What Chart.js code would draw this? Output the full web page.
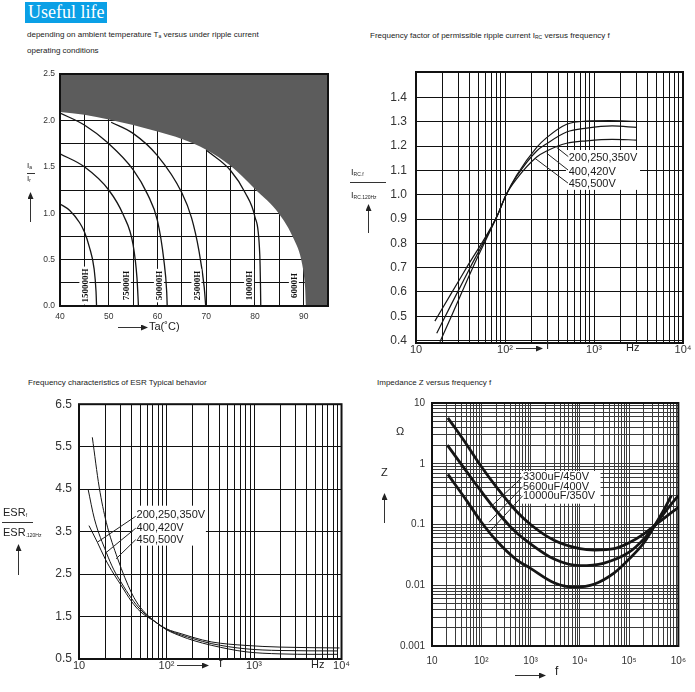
<!DOCTYPE html>
<html>
<head>
<meta charset="utf-8">
<script src="https://cdn.jsdelivr.net/npm/chart.js@4.4.1/dist/chart.umd.min.js"></script>
<style>
  body { margin:0; background:#fff; width:695px; height:692px; position:relative; overflow:hidden;
         font-family:"Liberation Sans", Arial, sans-serif; color:#222; }
  canvas { position:absolute; }
  .t { position:absolute; white-space:nowrap; line-height:1; }
  .s { font-size:8px; }
  .sub { font-size:5px; vertical-align:-1px; }
  #badge { position:absolute; left:25px; top:2px; width:82px; height:21px; background:#0aa0e6; color:#fff;
           font:18px "Liberation Serif", "DejaVu Serif", serif; line-height:21px; padding-left:3px; box-sizing:border-box; }
  svg { position:absolute; left:0; top:0; }
</style>
</head>
<body>
<div id="badge">Useful life</div>
<div class="t s" style="left:27px;top:31px">depending on ambient temperature T<span class="sub">a</span> versus under ripple current</div>
<div class="t s" style="left:27px;top:47px">operating conditions</div>
<div class="t s" style="left:370px;top:32px">Frequency factor of permissible ripple current I<span class="sub">RC</span> versus frequency f</div>
<div class="t s" style="left:28px;top:379px">Frequency characteristics of ESR Typical behavior</div>
<div class="t s" style="left:377px;top:379px">Impedance Z versus frequency f</div>

<canvas id="c1" width="340" height="285" style="left:0;top:60px"></canvas>
<canvas id="c2" width="355" height="305" style="left:340px;top:55px"></canvas>
<canvas id="c3" width="350" height="302" style="left:0;top:390px"></canvas>
<canvas id="c4" width="350" height="302" style="left:345px;top:390px"></canvas>

<!-- axis captions -->
<div class="t" style="left:27px;top:162px;font-size:8px">I<span class="sub">a</span></div>
<div class="t" style="left:27px;top:175px;font-size:8px">I<span class="sub">r</span></div>
<div class="t" style="left:149px;top:321px;font-size:11px">Ta(˚C)</div>

<div class="t" style="left:351px;top:168px;font-size:9px">I<span class="sub">RC.f</span></div>
<div class="t" style="left:351px;top:191px;font-size:9px">I<span class="sub">RC.120Hz</span></div>
<div class="t" style="left:546px;top:339px;font-size:12px">f</div>
<div class="t" style="left:626px;top:342px;font-size:11px">Hz</div>

<div class="t" style="left:3px;top:507px;font-size:11px">ESR<span class="sub">f</span></div>
<div class="t" style="left:3px;top:527px;font-size:11px">ESR<span class="sub">.120Hz</span></div>
<div class="t" style="left:219px;top:657px;font-size:12px">f</div>
<div class="t" style="left:311px;top:659px;font-size:11px">Hz</div>

<div class="t" style="left:396px;top:426px;font-size:11px">Ω</div>
<div class="t" style="left:381px;top:467px;font-size:11px">Z</div>
<div class="t" style="left:555px;top:665px;font-size:12px">f</div>

<svg width="695" height="692">
  <defs>
    <marker id="ah" markerWidth="7" markerHeight="6" refX="6" refY="3" orient="auto" markerUnits="userSpaceOnUse">
      <path d="M0,0 L7,3 L0,6 z" fill="#222"/>
    </marker>
  </defs>
  <g stroke="#333" stroke-width="1" fill="none">
    <line x1="27" y1="173.5" x2="35" y2="173.5"/>
    <line x1="350" y1="182.5" x2="386" y2="182.5"/>
    <line x1="2" y1="522.5" x2="33" y2="522.5"/>
  </g>
  <g stroke="#333" stroke-width="1" marker-end="url(#ah)">
    <line x1="118" y1="327.5" x2="147" y2="327.5"/>
    <line x1="30.5" y1="222" x2="30.5" y2="193"/>
    <line x1="516" y1="348.5" x2="542" y2="348.5"/>
    <line x1="368.5" y1="233" x2="368.5" y2="205"/>
    <line x1="177" y1="665.5" x2="208" y2="665.5"/>
    <line x1="18.5" y1="575" x2="18.5" y2="545"/>
    <line x1="515" y1="675.5" x2="545" y2="675.5"/>
    <line x1="384.5" y1="523" x2="384.5" y2="494"/>
  </g>
</svg>

<script>
// ---------- data ----------
// chart 1: useful life vs ambient temperature (x = Ta in C, y = Ia/Ir)
const tempTicks = [40, 45, 50, 55, 60, 65, 70, 75, 80, 85, 90, 95];
const ratioTicks = [0, 0.25, 0.5, 0.75, 1, 1.25, 1.5, 1.75, 2, 2.25, 2.5];
const limit6000 = [[40, 2.09], [45, 2.06], [50, 2.01], [55, 1.95], [60, 1.88], [65, 1.80], [70, 1.685],
                   [75, 1.51], [80, 1.26], [85, 0.99], [88, 0.72], [89.7, 0.45], [90.3, 0.2], [90.5, 0], [95, 0]];
const life150k = [[40, 1.10], [42, 1.03], [44, 0.90], [45, 0.80], [46, 0.64], [47, 0.40], [47.4, 0.15], [47.5, 0]];
const life75k = [[40, 1.64], [45, 1.50], [50, 1.25], [53, 0.98], [55, 0.66], [55.8, 0.3], [56.1, 0]];
const life50k = [[40, 2.08], [45, 1.95], [50, 1.75], [55, 1.47], [58, 1.20], [60, 0.92], [61.3, 0.5], [61.9, 0.15], [62, 0]];
const life25k = [[50.5, 1.98], [55, 1.86], [60, 1.62], [65, 1.22], [67, 0.95], [68.5, 0.6], [69.6, 0.2], [69.9, 0]];
const life10k = [[70, 1.68], [75, 1.46], [78, 1.22], [80, 0.96], [81, 0.55], [81.15, 0.2], [81.2, 0]];
const lifeTags = ['150000H', '75000H', '50000H', '25000H', '10000H', '6000H'];
const lifeTagX = [45, 53.5, 60.3, 68, 78.8, 88];

// chart 2: ripple current frequency factor (x = f in Hz, y = IRC.f / IRC.120Hz)
const rippleTicks = [0.4, 0.5, 0.6, 0.7, 0.8, 0.9, 1.0, 1.1, 1.2, 1.3, 1.4];
const ripple350V = [[18.6, 0.395], [25, 0.50], [43.4, 0.70], [81, 0.91], [103, 1.0], [135, 1.08], [227, 1.195],
                    [294, 1.235], [493, 1.29], [828, 1.303], [1500, 1.305], [2880, 1.302]];
const ripple420V = [[17.1, 0.43], [25, 0.55], [40.5, 0.70], [81, 0.91], [103, 1.0], [135, 1.075], [227, 1.18],
                    [294, 1.21], [493, 1.258], [828, 1.274], [1600, 1.283], [3000, 1.277]];
const ripple500V = [[16.3, 0.48], [25, 0.595], [37, 0.70], [81, 0.91], [103, 1.0], [135, 1.065], [227, 1.155],
                    [294, 1.18], [493, 1.212], [828, 1.222], [1600, 1.228], [3000, 1.225]];
const rippleNotes = [['200,250,350V', 520, 1.15], ['400,420V', 520, 1.095], ['450,500V', 520, 1.045]];

// chart 3: ESR ratio (x = f in Hz, y = ESRf / ESR120Hz)
const esrTicks = [0.5, 1.5, 2.5, 3.5, 4.5, 5.5, 6.5];
const esr350V = [[14.2, 5.72], [17, 4.55], [20.5, 3.72], [27.7, 2.86], [40, 2.05], [50, 1.72], [75, 1.37], [100, 1.19],
                 [150, 1.03], [200, 0.94], [330, 0.82], [800, 0.67], [2000, 0.62], [5000, 0.61], [9000, 0.61]];
const esr420V = [[12.7, 4.5], [15, 3.8], [20.5, 3.01], [25, 2.6], [30, 2.32], [40, 1.92], [50, 1.67], [75, 1.37],
                 [100, 1.2], [150, 1.06], [200, 0.98], [330, 0.86], [800, 0.74], [2000, 0.70], [9000, 0.69]];
const esr500V = [[13, 3.64], [16.2, 3.25], [20, 2.85], [25, 2.5], [30, 2.25], [40, 1.85], [50, 1.62], [75, 1.37],
                 [100, 1.21], [150, 1.09], [200, 1.01], [330, 0.9], [800, 0.82], [2000, 0.78], [9500, 0.76]];
const esrNotes = [['200,250,350V', 45.5, 3.89], ['400,420V', 45.5, 3.59], ['450,500V', 45.5, 3.31]];

// chart 4: impedance (x = f in Hz, y = Z in ohm)
const z3300uF = [[21, 5.7], [50, 2.1], [100, 0.9], [200, 0.42], [500, 0.17], [1000, 0.1], [3000, 0.055], [10000, 0.04],
                 [20000, 0.038], [50000, 0.04], [100000, 0.05], [200000, 0.07], [330000, 0.096], [600000, 0.14], [1000000, 0.19]];
const z5600uF = [[20.5, 2.03], [50, 0.75], [100, 0.35], [200, 0.17], [500, 0.075], [1000, 0.048], [3000, 0.027],
                 [10000, 0.021], [30000, 0.023], [100000, 0.035], [200000, 0.058], [330000, 0.096], [600000, 0.18], [1000000, 0.30]];
const z10000uF = [[21, 0.67], [50, 0.25], [100, 0.11], [200, 0.055], [500, 0.027], [1000, 0.019], [3000, 0.011],
                  [8000, 0.0093], [20000, 0.0105], [50000, 0.016], [100000, 0.027], [200000, 0.05], [330000, 0.096],
                  [500000, 0.17], [720000, 0.30]];
const zNotes = [['3300uF/450V', 702, 0.608], ['5600uF/400V', 702, 0.422], ['10000uF/350V', 702, 0.297]];

const minorSteps = [1, 2, 3, 4, 5, 6, 7, 8, 9];
const sup = { 1: '10', 2: '10²', 3: '10³', 4: '10⁴', 5: '10⁵', 6: '10⁶' };
const ohmLabels = { 1: '10', 0: '1', '-1': '0.1', '-2': '0.01', '-3': '0.001' };

// ---------- helpers ----------
const pts = arr => arr.map(p => ({ x: p[0], y: p[1] }));
const curve = (arr, w) => ({ data: pts(arr), showLine: true, borderColor: '#151515', borderWidth: w,
                             pointRadius: 0, fill: false, cubicInterpolationMode: 'monotone' });
function logGrid(e0, e1) {
  const out = [];
  for (let e = e0; e < e1; e++) minorSteps.forEach(m => out.push({ value: +(m * Math.pow(10, e)).toPrecision(6) }));
  out.push({ value: Math.pow(10, e1) });
  return out;
}
function decade(v) {
  const e = Math.round(Math.log10(v));
  return Math.abs(v - Math.pow(10, e)) < Math.pow(10, e) * 1e-6 ? e : null;
}
const FONT = '"Liberation Sans", Arial, sans-serif';

const decor = {
  id: 'decor',
  afterDraw(chart, args, o) {
    const c = chart.ctx, a = chart.chartArea, X = chart.scales.x, Y = chart.scales.y;
    const px = v => X.getPixelForValue(v), py = v => Y.getPixelForValue(v);
    c.save();
    c.beginPath(); c.rect(a.left, a.top, a.right - a.left, a.bottom - a.top); c.clip();
    (o.boxes || []).forEach(b => {
      c.fillStyle = '#fff';
      c.fillRect(px(b[0]), py(b[1]), px(b[2]) - px(b[0]), py(b[3]) - py(b[1]));
    });
    c.strokeStyle = '#222'; c.lineWidth = 1;
    (o.leaders || []).forEach(l => {
      c.beginPath(); c.moveTo(px(l[0]), py(l[1])); c.lineTo(px(l[2]), py(l[3])); c.stroke();
    });
    c.fillStyle = '#1a1a1a'; c.font = '11px ' + FONT; c.textBaseline = 'middle'; c.textAlign = 'left';
    (o.notes || []).forEach(n => c.fillText(n[0], px(n[1]), py(n[2])));
    c.font = 'bold 9px "Liberation Serif", "DejaVu Serif", serif';
    (o.tags || []).forEach(t => {
      const w = c.measureText(t[0]).width;
      c.save(); c.translate(px(t[1]), py(t[2])); c.rotate(-Math.PI / 2);
      c.fillStyle = '#fff'; c.fillRect(-w / 2 - 2, -5, w + 4, 10);
      c.fillStyle = '#111'; c.textAlign = 'center'; c.fillText(t[0], 0, 1);
      c.restore();
    });
    c.restore();
    if (o.frame) {
      c.save(); c.lineWidth = o.frame; c.strokeStyle = '#111';
      c.strokeRect(a.left, a.top, a.right - a.left, a.bottom - a.top); c.restore();
    }
  }
};
Chart.register(decor);
Chart.defaults.font.family = FONT;
Chart.defaults.color = '#333';
Chart.defaults.animation = false;
Chart.defaults.responsive = false;
Chart.defaults.plugins.legend.display = false;
Chart.defaults.plugins.tooltip.enabled = false;

function axis(type, pos, min, max, size, fontSize, pad, ticksFn, label, gridColor, z) {
  return {
    type, position: pos, min, max, z: z || 0, bounds: 'data',
    border: { display: false },
    grid: { color: gridColor || '#111', drawTicks: false, lineWidth: 1 },
    ticks: { autoSkip: false, maxRotation: 0, padding: pad, font: { size: fontSize }, color: '#333', callback: label },
    afterBuildTicks: s => { s.ticks = ticksFn(); },
    afterFit: s => { if (pos === 'bottom') s.height = size; else s.width = size; }
  };
}

// ---------- chart 1 ----------
new Chart(document.getElementById('c1'), {
  type: 'scatter',
  data: { datasets: [
    { data: pts(limit6000), showLine: true, borderWidth: 0, borderColor: 'rgba(0,0,0,0)', pointRadius: 0,
      backgroundColor: '#5c5c5c', fill: 'end', cubicInterpolationMode: 'monotone' },
    curve(life150k, 1.3), curve(life75k, 1.3), curve(life50k, 1.3), curve(life25k, 1.3), curve(life10k, 1.3)
  ] },
  options: {
    layout: { padding: { top: 14, right: 12, left: 0, bottom: 0 } },
    scales: {
      x: axis('linear', 'bottom', 40, 95, 39, 8.5, 6, () => tempTicks.map(v => ({ value: v })),
              v => (v % 10 === 0 && v < 95 ? v : ''), '#111', 1),
      y: axis('linear', 'left', 0, 2.5, 60, 8.5, 5, () => ratioTicks.map(v => ({ value: v })),
              v => (Math.abs(v * 2 - Math.round(v * 2)) < 1e-9 ? v.toFixed(1) : ''), '#111', 1)
    },
    plugins: { decor: { frame: 2, tags: lifeTags.map((s, i) => [s, lifeTagX[i], 0.22]) } }
  }
});

// ---------- chart 2 ----------
new Chart(document.getElementById('c2'), {
  type: 'scatter',
  data: { datasets: [curve(ripple350V, 1.2), curve(ripple420V, 1.2), curve(ripple500V, 1.2)] },
  options: {
    layout: { padding: { top: 17, right: 12, left: 0, bottom: 0 } },
    scales: {
      x: axis('logarithmic', 'bottom', 10, 10000, 17, 11, 0, () => logGrid(1, 4),
              v => { const e = decade(v); return e === null ? '' : sup[e]; }),
      y: axis('linear', 'left', 0.39, 1.505, 76, 12, 9, () => rippleTicks.map(v => ({ value: v })),
              v => v.toFixed(1))
    },
    plugins: { decor: {
      frame: 2,
      boxes: [[484, 1.184, 3290, 1.02]],
      leaders: [[514, 1.157, 380, 1.195], [510, 1.102, 294, 1.171], [510, 1.048, 217, 1.15]],
      notes: rippleNotes
    } }
  }
});

// ---------- chart 3 ----------
new Chart(document.getElementById('c3'), {
  type: 'scatter',
  data: { datasets: [curve(esr350V, 1), curve(esr420V, 1), curve(esr500V, 1)] },
  options: {
    layout: { padding: { top: 13, right: 7, left: 0, bottom: 0 } },
    scales: {
      x: axis('logarithmic', 'bottom', 10, 10000, 33, 11, 0, () => logGrid(1, 4),
              v => { const e = decade(v); return e === null ? '' : sup[e]; }),
      y: axis('linear', 'left', 0.5, 6.5, 79, 12, 7, () => esrTicks.map(v => ({ value: v })),
              v => v.toFixed(1))
    },
    plugins: { decor: {
      frame: 2,
      boxes: [[40.7, 4.11, 282, 3.17]],
      leaders: [[44.5, 3.86, 16.2, 3.25], [44.5, 3.58, 20.5, 3.01], [44.5, 3.31, 26.6, 2.86]],
      notes: esrNotes
    } }
  }
});

// ---------- chart 4 ----------
new Chart(document.getElementById('c4'), {
  type: 'scatter',
  data: { datasets: [curve(z3300uF, 2.8), curve(z5600uF, 2.8), curve(z10000uF, 2.8)] },
  options: {
    layout: { padding: { top: 12, right: 6, left: 0, bottom: 0 } },
    scales: {
      x: axis('logarithmic', 'bottom', 10, 1000000, 46, 10, 9, () => logGrid(1, 6),
              v => { const e = decade(v); return e === null ? '' : sup[e]; }, '#3a3a3a'),
      y: axis('logarithmic', 'left', 0.001, 10, 87, 10, 7, () => logGrid(-3, 1),
              v => { const e = decade(v); return e === null ? '' : ohmLabels[e]; }, '#3a3a3a')
    },
    plugins: { decor: {
      frame: 2,
      boxes: [[641, 0.76, 26300, 0.22]],
      leaders: [[692, 0.61, 150, 0.19], [692, 0.42, 144, 0.109], [692, 0.297, 144, 0.0745]],
      notes: zNotes
    } }
  }
});
</script>
</body>
</html>
